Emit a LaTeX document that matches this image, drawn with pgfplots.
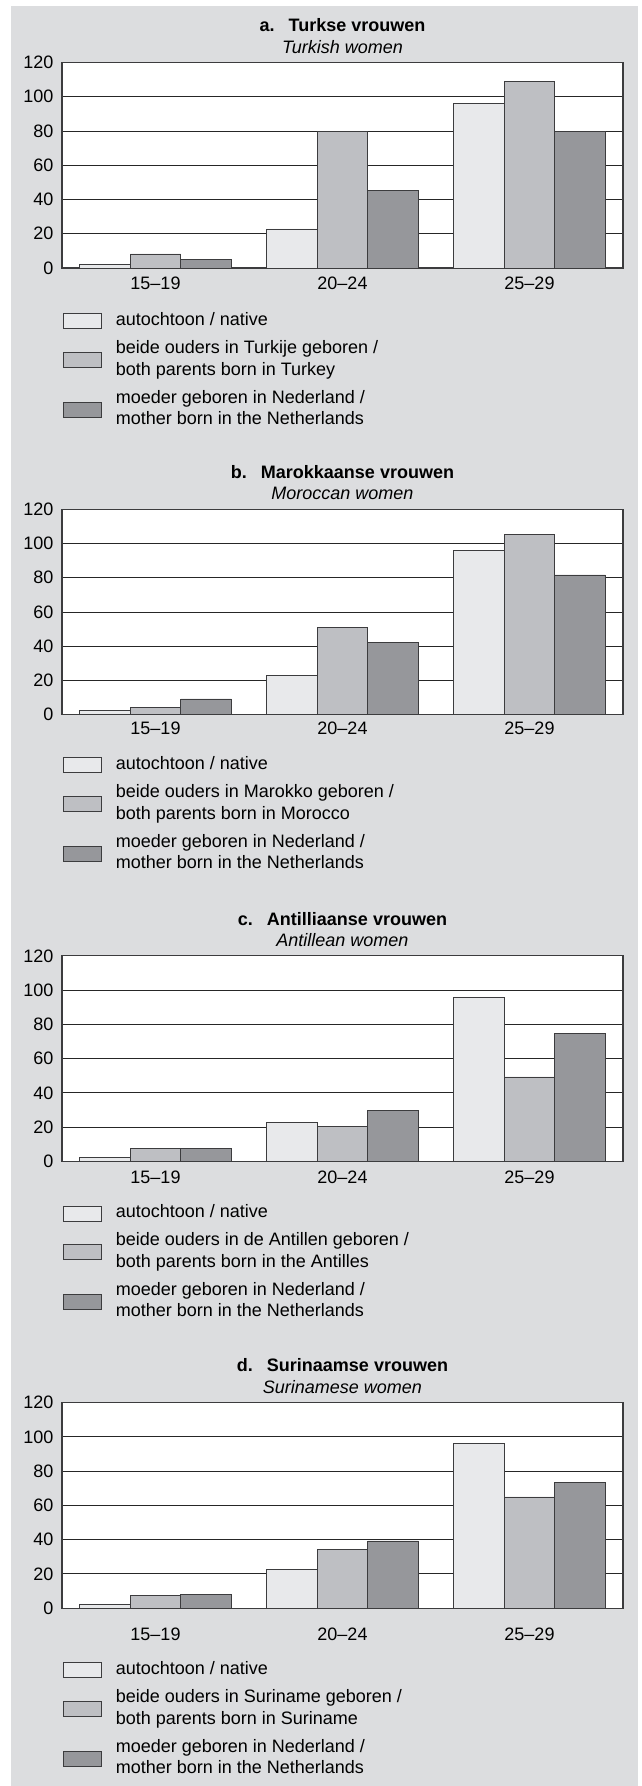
\documentclass[border=0pt]{standalone}
\usepackage{pgfplots}
\pgfplotsset{compat=1.18}
\usepackage{pgfplotstable}
\usepackage{fontspec}
\setmainfont{Liberation Sans}
\newcommand\fs{\fontsize{18bp}{21.5bp}\selectfont}
\definecolor{bggray}{RGB}{220,221,223}
\definecolor{cone}{RGB}{232,233,235}
\definecolor{ctwo}{RGB}{190,191,195}
\definecolor{cthree}{RGB}{150,151,155}
\definecolor{edge}{RGB}{60,60,62}

\pgfplotstableread{
x nat par moe
0 2.3 8.2 5.0
1 22.8 79.6 45.4
2 96.0 109.1 80.0
}\dataA
\pgfplotstableread{
x nat par moe
0 2.3 4.5 9.2
1 22.8 51.2 42.3
2 96.0 105.0 81.6
}\dataB
\pgfplotstableread{
x nat par moe
0 2.2 7.8 7.4
1 22.8 20.6 29.6
2 96.0 49.3 74.6
}\dataC
\pgfplotstableread{
x nat par moe
0 2.4 7.4 8.0
1 22.8 34.2 39.2
2 96.0 64.9 73.4
}\dataD

\pgfplotsset{
  panel/.style={
    scale only axis, width=561bp, height=205.5bp,
    anchor=south west,
    xmin=-0.5, xmax=2.5, ymin=0, ymax=120,
    xtick={0,1,2}, xticklabels={15–19,20–24,25–29},
    ytick={0,20,...,120},
    major tick length=0pt,
    /pgf/number format/assume math mode=true,
    tick label style={font=\fs},
    yticklabel style={inner sep=0pt, xshift=-8.5bp},
    xticklabel style={inner sep=0pt, yshift=-9bp},
    ymajorgrids, grid style={black!85, line width=0.9bp},
    axis line style={edge, line width=1.1bp},
    axis background/.style={fill=white},
    every axis title/.style={at={(0.5,1)}, anchor=south, yshift=9bp, inner sep=0pt, align=center, font=\fs},
    legend cell align=left,
    legend image code/.code={\draw[##1] (0bp,-7.5bp) rectangle (38bp,7.5bp);},
    legend style={draw=none, fill=none, inner sep=0pt, anchor=north west,
      row sep=6.5bp, column sep=14bp, font=\fs,
      nodes={inner sep=0pt, text depth=, text height=}, cells={anchor=west}},
  },
  barA/.style={ybar, bar width=50.5bp, bar shift=-50.5bp, fill=cone, draw=edge, line width=0.9bp},
  barB/.style={ybar, bar width=50.5bp, bar shift=0bp, fill=ctwo, draw=edge, line width=0.9bp},
  barC/.style={ybar, bar width=50.5bp, bar shift=50.5bp, fill=cthree, draw=edge, line width=0.9bp},
}
\newcommand\two[2]{\begin{tabular}{@{}l@{}}#1\\#2\end{tabular}}
\newcommand\one[1]{\begin{tabular}{@{}l@{}}#1\end{tabular}}

\begin{document}
\begin{tikzpicture}
\useasboundingbox (0,0) rectangle (642bp,-1786bp);
\fill[bggray] (11bp,-6bp) rectangle (638bp,-1786bp);

% Panel a
\begin{axis}[panel, at={(62bp,-268bp)},
  title={\textbf{a.\hspace{14bp}Turkse vrouwen}\\\textit{Turkish women}},
  legend style={at={(0.00125,-0.2056)}}]
\addplot[barA] table[x=x,y=nat]{\dataA};
\addlegendentry{\one{autochtoon / native}}
\addplot[barB] table[x=x,y=par]{\dataA};
\addlegendentry{\two{beide ouders in Turkije geboren /}{both parents born in Turkey}}
\addplot[barC] table[x=x,y=moe]{\dataA};
\addlegendentry{\two{moeder geboren in Nederland /}{mother born in the Netherlands}}
\end{axis}

% Panel b
\begin{axis}[panel, at={(62bp,-714.7bp)},
  title={\textbf{b.\hspace{14bp}Marokkaanse vrouwen}\\\textit{Moroccan women}},
  xticklabel style={yshift=2bp},
  legend style={at={(0.00125,-0.1934)}}]
\addplot[barA] table[x=x,y=nat]{\dataB};
\addlegendentry{\one{autochtoon / native}}
\addplot[barB] table[x=x,y=par]{\dataB};
\addlegendentry{\two{beide ouders in Marokko geboren /}{both parents born in Morocco}}
\addplot[barC] table[x=x,y=moe]{\dataB};
\addlegendentry{\two{moeder geboren in Nederland /}{mother born in the Netherlands}}
\end{axis}

% Panel c
\begin{axis}[panel, at={(62bp,-1161.4bp)},
  title={\textbf{c.\hspace{14bp}Antilliaanse vrouwen}\\\textit{Antillean women}},
  legend style={at={(0.00125,-0.2007)}}]
\addplot[barA] table[x=x,y=nat]{\dataC};
\addlegendentry{\one{autochtoon / native}}
\addplot[barB] table[x=x,y=par]{\dataC};
\addlegendentry{\two{beide ouders in de Antillen geboren /}{both parents born in the Antilles}}
\addplot[barC] table[x=x,y=moe]{\dataC};
\addlegendentry{\two{moeder geboren in Nederland /}{mother born in the Netherlands}}
\end{axis}

% Panel d
\begin{axis}[panel, at={(62bp,-1608.1bp)},
  title={\textbf{d.\hspace{14bp}Surinaamse vrouwen}\\\textit{Surinamese women}},
  xticklabel style={yshift=-11bp},
  legend style={at={(0.00125,-0.2494)}}]
\addplot[barA] table[x=x,y=nat]{\dataD};
\addlegendentry{\one{autochtoon / native}}
\addplot[barB] table[x=x,y=par]{\dataD};
\addlegendentry{\two{beide ouders in Suriname geboren /}{both parents born in Suriname}}
\addplot[barC] table[x=x,y=moe]{\dataD};
\addlegendentry{\two{moeder geboren in Nederland /}{mother born in the Netherlands}}
\end{axis}
\end{tikzpicture}
\end{document}
